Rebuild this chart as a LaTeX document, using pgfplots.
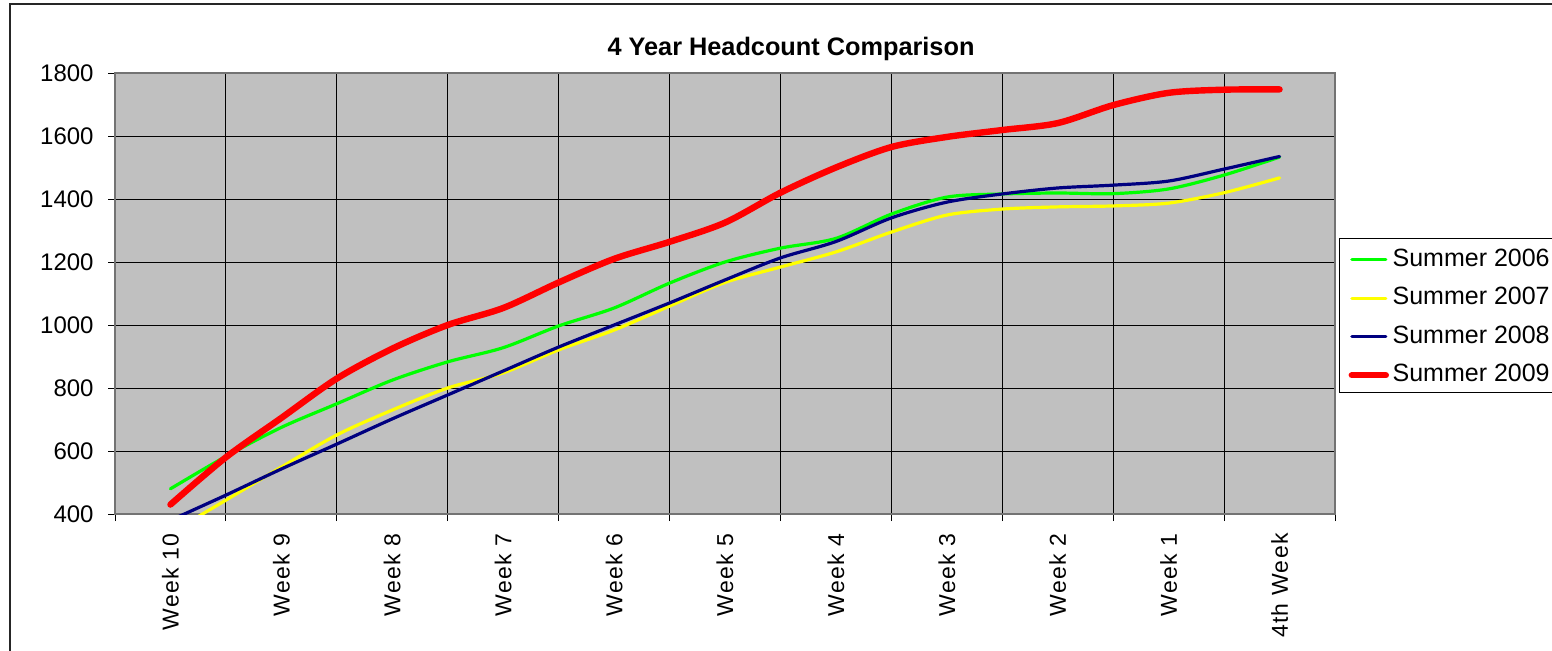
\documentclass[border=0pt]{standalone}
\usepackage{fontspec}
\setmainfont{Liberation Sans}
\newfontfamily\widefont[LetterSpace=5.5]{Liberation Sans}
\usepackage{pgfplots}
\pgfplotsset{compat=1.18}
\usepackage{pgfplotstable}
\definecolor{plotbg}{HTML}{C0C0C0}
\definecolor{sgreen}{HTML}{00FF00}
\definecolor{syellow}{HTML}{FFFF00}
\definecolor{snavy}{HTML}{000080}
\definecolor{sred}{HTML}{FF0000}

\pgfplotstableread{
x    r     g     y     b
0    430   480   340   380
0.5  580   583   444   460
1    705   675   549   543
1.5  830   750   651   622
2    925   825   730   702
2.5  1000  883   800   778
3    1054  928   848   854
3.5  1135  997   921   930
4    1210  1054  984   1000
4.5  1264  1133  1060  1070
5    1325  1200  1135  1143
5.5  1420  1244  1184  1213
6    1500  1275  1232  1265
6.5  1565  1352  1295  1340
7    1597  1406  1349  1390
7.5  1619  1416  1368  1416
8    1641  1419  1375  1435
8.5  1698  1417  1378  1444
9    1737  1432  1387  1457
9.5  1747  1476  1420  1495
10   1748  1533  1467  1535
}\data

\begin{document}
\begin{tikzpicture}[x=1pt,y=1pt]
\useasboundingbox (0,0) rectangle (776,325);
\draw[line width=0.6pt, black!85] (5,-60) rectangle (900,323);
\node[font=\fontsize{12.65}{15}\selectfont\bfseries] at (395.5,300.5) {4 Year Headcount Comparison};
\begin{axis}[
  at={(57.5pt,68pt)}, anchor=south west,
  scale only axis, width=610pt, height=220.5pt,
  xmin=-0.5, xmax=10.5, ymin=400, ymax=1800,
  ytick={400,600,800,1000,1200,1400,1600,1800},
  xtick={-0.5,0.5,...,10.5},
  xticklabels={,,,,,,,,,,,,},
  extra x ticks={0,1,2,3,4,5,6,7,8,9,10},
  extra x tick labels={Week 10,Week 9,Week 8,Week 7,Week 6,Week 5,Week 4,Week 3,Week 2,Week 1,4th Week},
  extra x tick style={
    major tick length=0pt, grid=none,
    xticklabel style={rotate=90, anchor=east, inner sep=0pt,
      font=\widefont\fontsize{11.5}{13}\selectfont},
    xticklabel shift=9.5pt},
  tick align=outside, major tick length=3.5pt,
  tick style={black, line width=0.5pt},
  xtick pos=bottom, ytick pos=left,
  grid=major, major grid style={black, line width=0.5pt},
  axis background/.style={fill=plotbg},
  axis line style={black!55, line width=0.7pt},
  /pgf/number format/assume math mode=true,
  /pgf/number format/1000 sep={},
  yticklabel style={font=\fontsize{12}{14}\selectfont, inner sep=0pt, anchor=east},
  yticklabel shift=7pt,
  legend style={at={(1.0033,0.626)}, anchor=north west, draw=black, fill=white,
    line width=0.6pt,
    font=\fontsize{12.5}{15}\selectfont, inner xsep=1pt, inner ysep=0pt,
    row sep=0pt,
    nodes={inner sep=0.5pt, text height=13.4pt, text depth=4.85pt}},
  legend cell align=left,
  legend image code/.code={\path (0pt,0pt) (21.8pt,0pt); \draw[#1] (3.5pt,-1pt) -- (20.5pt,-1pt);},
  every axis plot/.append style={smooth, tension=0.5, line cap=round, line join=round},
]
\addplot[sgreen, line width=1.6pt] table[x=x,y=g]{\data};
\addlegendentry{Summer 2006}
\addplot[syellow, line width=1.6pt] table[x=x,y=y]{\data};
\addlegendentry{Summer 2007}
\addplot[snavy, line width=1.6pt] table[x=x,y=b]{\data};
\addlegendentry{Summer 2008}
\addplot[sred, line width=3.2pt] table[x=x,y=r]{\data};
\addlegendentry{Summer 2009}
\end{axis}
\end{tikzpicture}
\end{document}
